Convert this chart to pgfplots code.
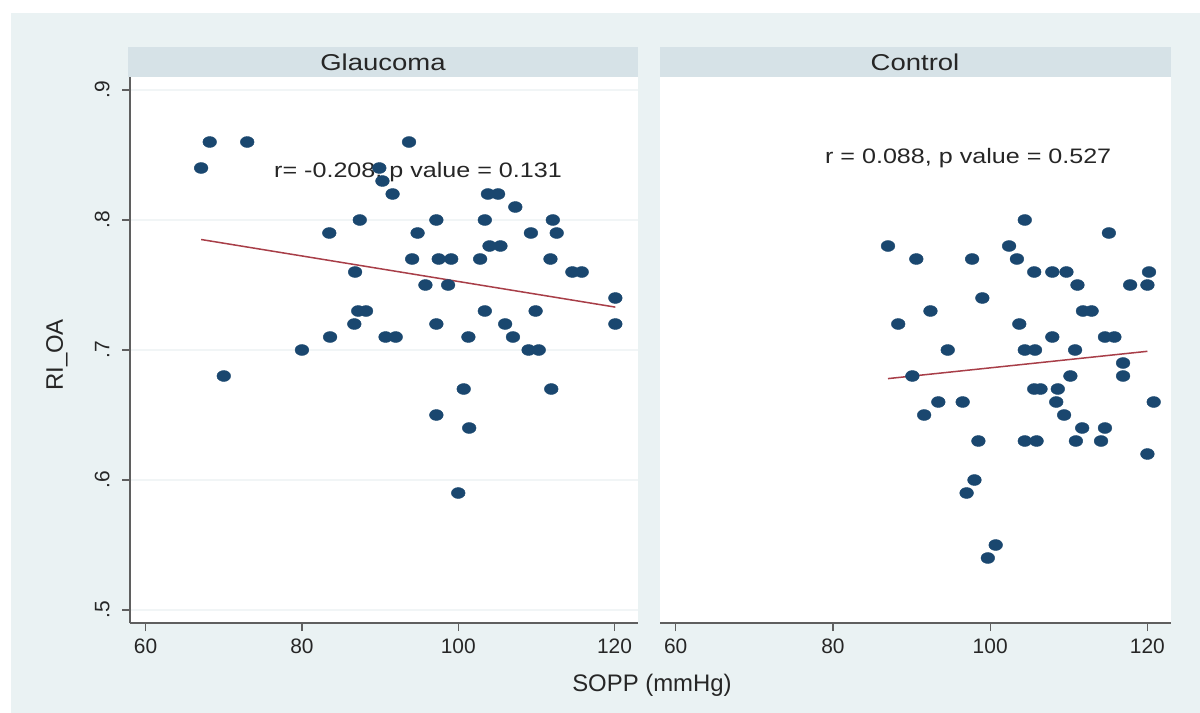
\documentclass[border=0pt]{standalone}
\usepackage{pgfplots}
\usepackage{pgfplotstable}
\pgfplotsset{compat=1.18}
\usepackage{fontspec}
\setmainfont{Liberation Sans}

\definecolor{graphbg}{RGB}{234,242,243}
\definecolor{stripbg}{RGB}{214,226,231}
\definecolor{gridc}{RGB}{241,245,246}
\definecolor{navy}{RGB}{26,71,111}
\definecolor{fitline}{RGB}{168,62,72}
\definecolor{axisc}{RGB}{95,95,95}

% SOPP (mmHg) vs RI_OA, glaucoma group
\pgfplotstableread{
x y
67.1 0.84
68.2 0.86
73.0 0.86
70.0 0.68
80.0 0.70
83.5 0.79
83.6 0.71
86.8 0.76
86.7 0.72
87.4 0.80
87.2 0.73
88.2 0.73
89.9 0.84
90.3 0.83
91.6 0.82
90.7 0.71
92.0 0.71
93.7 0.86
94.1 0.77
94.8 0.79
95.8 0.75
97.2 0.80
97.2 0.72
97.2 0.65
97.5 0.77
99.1 0.77
98.7 0.75
100.0 0.59
100.7 0.67
101.3 0.71
101.4 0.64
102.8 0.77
103.4 0.80
103.4 0.73
103.8 0.82
105.1 0.82
104.0 0.78
105.4 0.78
106.0 0.72
107.0 0.71
107.3 0.81
109.3 0.79
109.0 0.70
110.3 0.70
109.9 0.73
111.8 0.77
111.9 0.67
112.1 0.80
112.6 0.79
114.6 0.76
115.8 0.76
120.1 0.74
120.1 0.72
}\glaucoma

% control group
\pgfplotstableread{
x y
104.4 0.80
115.1 0.79
87.0 0.78
102.4 0.78
90.6 0.77
97.7 0.77
103.4 0.77
105.6 0.76
107.9 0.76
109.7 0.76
120.2 0.76
111.1 0.75
117.8 0.75
120.0 0.75
99.0 0.74
92.4 0.73
111.8 0.73
112.9 0.73
88.3 0.72
103.7 0.72
107.9 0.71
114.6 0.71
115.8 0.71
94.6 0.70
104.4 0.70
105.7 0.70
110.8 0.70
116.9 0.69
90.1 0.68
110.2 0.68
116.9 0.68
105.6 0.67
106.4 0.67
108.6 0.67
93.4 0.66
96.5 0.66
108.4 0.66
120.8 0.66
91.6 0.65
109.4 0.65
111.7 0.64
114.6 0.64
98.5 0.63
104.4 0.63
105.9 0.63
110.9 0.63
114.1 0.63
120.0 0.62
98.0 0.60
97.0 0.59
100.7 0.55
99.7 0.54
}\control

\pgfplotsset{
  panel/.style={
    scale only axis, height=546bp, anchor=south west,
    xmin=58, xmax=123, ymin=0.49, ymax=0.91,
    xtick={60,80,100,120},
    ytick={0.5,0.6,0.7,0.8,0.9},
    ymajorgrids, grid style={gridc, line width=1.2bp},
    axis x line*=bottom,
    axis line style={-, axisc, line width=1.8bp},
    tick style={axisc, line width=1.2bp},
    major tick length=8bp,
    tick align=outside,
    ticklabel style={font=\fontsize{21}{24}\selectfont, text=black!85},
    xticklabel shift=4bp,
    /pgf/number format/assume math mode=true,
  },
  dots/.style={only marks, mark=*, mark size=5.5bp,
    mark options={fill=navy, draw=navy, xscale=1.25}},
  fit/.style={no marks, fitline, line width=1.5bp},
}

\begin{document}
\begin{tikzpicture}
\begin{scope}[x=1bp, y=-1bp]
  \fill[white] (0,0) rectangle (1200,713);
  \fill[graphbg] (11,13) rectangle (1200,713);
  \fill[white] (130,77) rectangle (638,623);
  \fill[white] (660,77) rectangle (1171,623);
  \fill[stripbg] (128,47) rectangle (638,77);
  \fill[stripbg] (660,47) rectangle (1171,77);
  \node[font=\fontsize{23}{26}\selectfont, xscale=1.2, text=black!85] at (383,62) {Glaucoma};
  \node[font=\fontsize{23}{26}\selectfont, xscale=1.2, text=black!85] at (915,62) {Control};
  \node[font=\fontsize{24}{28}\selectfont, text=black!85] at (652,685) {SOPP (mmHg)};
  \node[font=\fontsize{24}{28}\selectfont, rotate=90, text=black!85] at (57,355) {RI\_OA};
\end{scope}

\begin{axis}[panel, width=508bp, at={(130bp,-623bp)},
  axis y line*=left,
  yticklabels={.5,.6,.7,.8,.9},
  yticklabel style={rotate=90, anchor=south},
  yticklabel shift=9bp,
]
  \addplot[dots] table[x=x, y=y] {\glaucoma};
  \addplot[fit] coordinates {(67.1,0.785) (120.1,0.733)};
  \node[font=\fontsize{21}{24}\selectfont, xscale=1.2, text=black!85]
    at (axis cs:94.85,0.837) {r= -0.208, p value = 0.131};
\end{axis}

\begin{axis}[panel, width=511bp, at={(660bp,-623bp)},
  axis y line=none,
  yticklabels={},
  y tick style={draw=none},
]
  \addplot[dots] table[x=x, y=y] {\control};
  \addplot[fit] coordinates {(87.0,0.678) (120.0,0.699)};
  \node[font=\fontsize{21}{24}\selectfont, xscale=1.2, text=black!85]
    at (axis cs:97.2,0.8477) {r = 0.088, p value = 0.527};
\end{axis}
\end{tikzpicture}
\end{document}
